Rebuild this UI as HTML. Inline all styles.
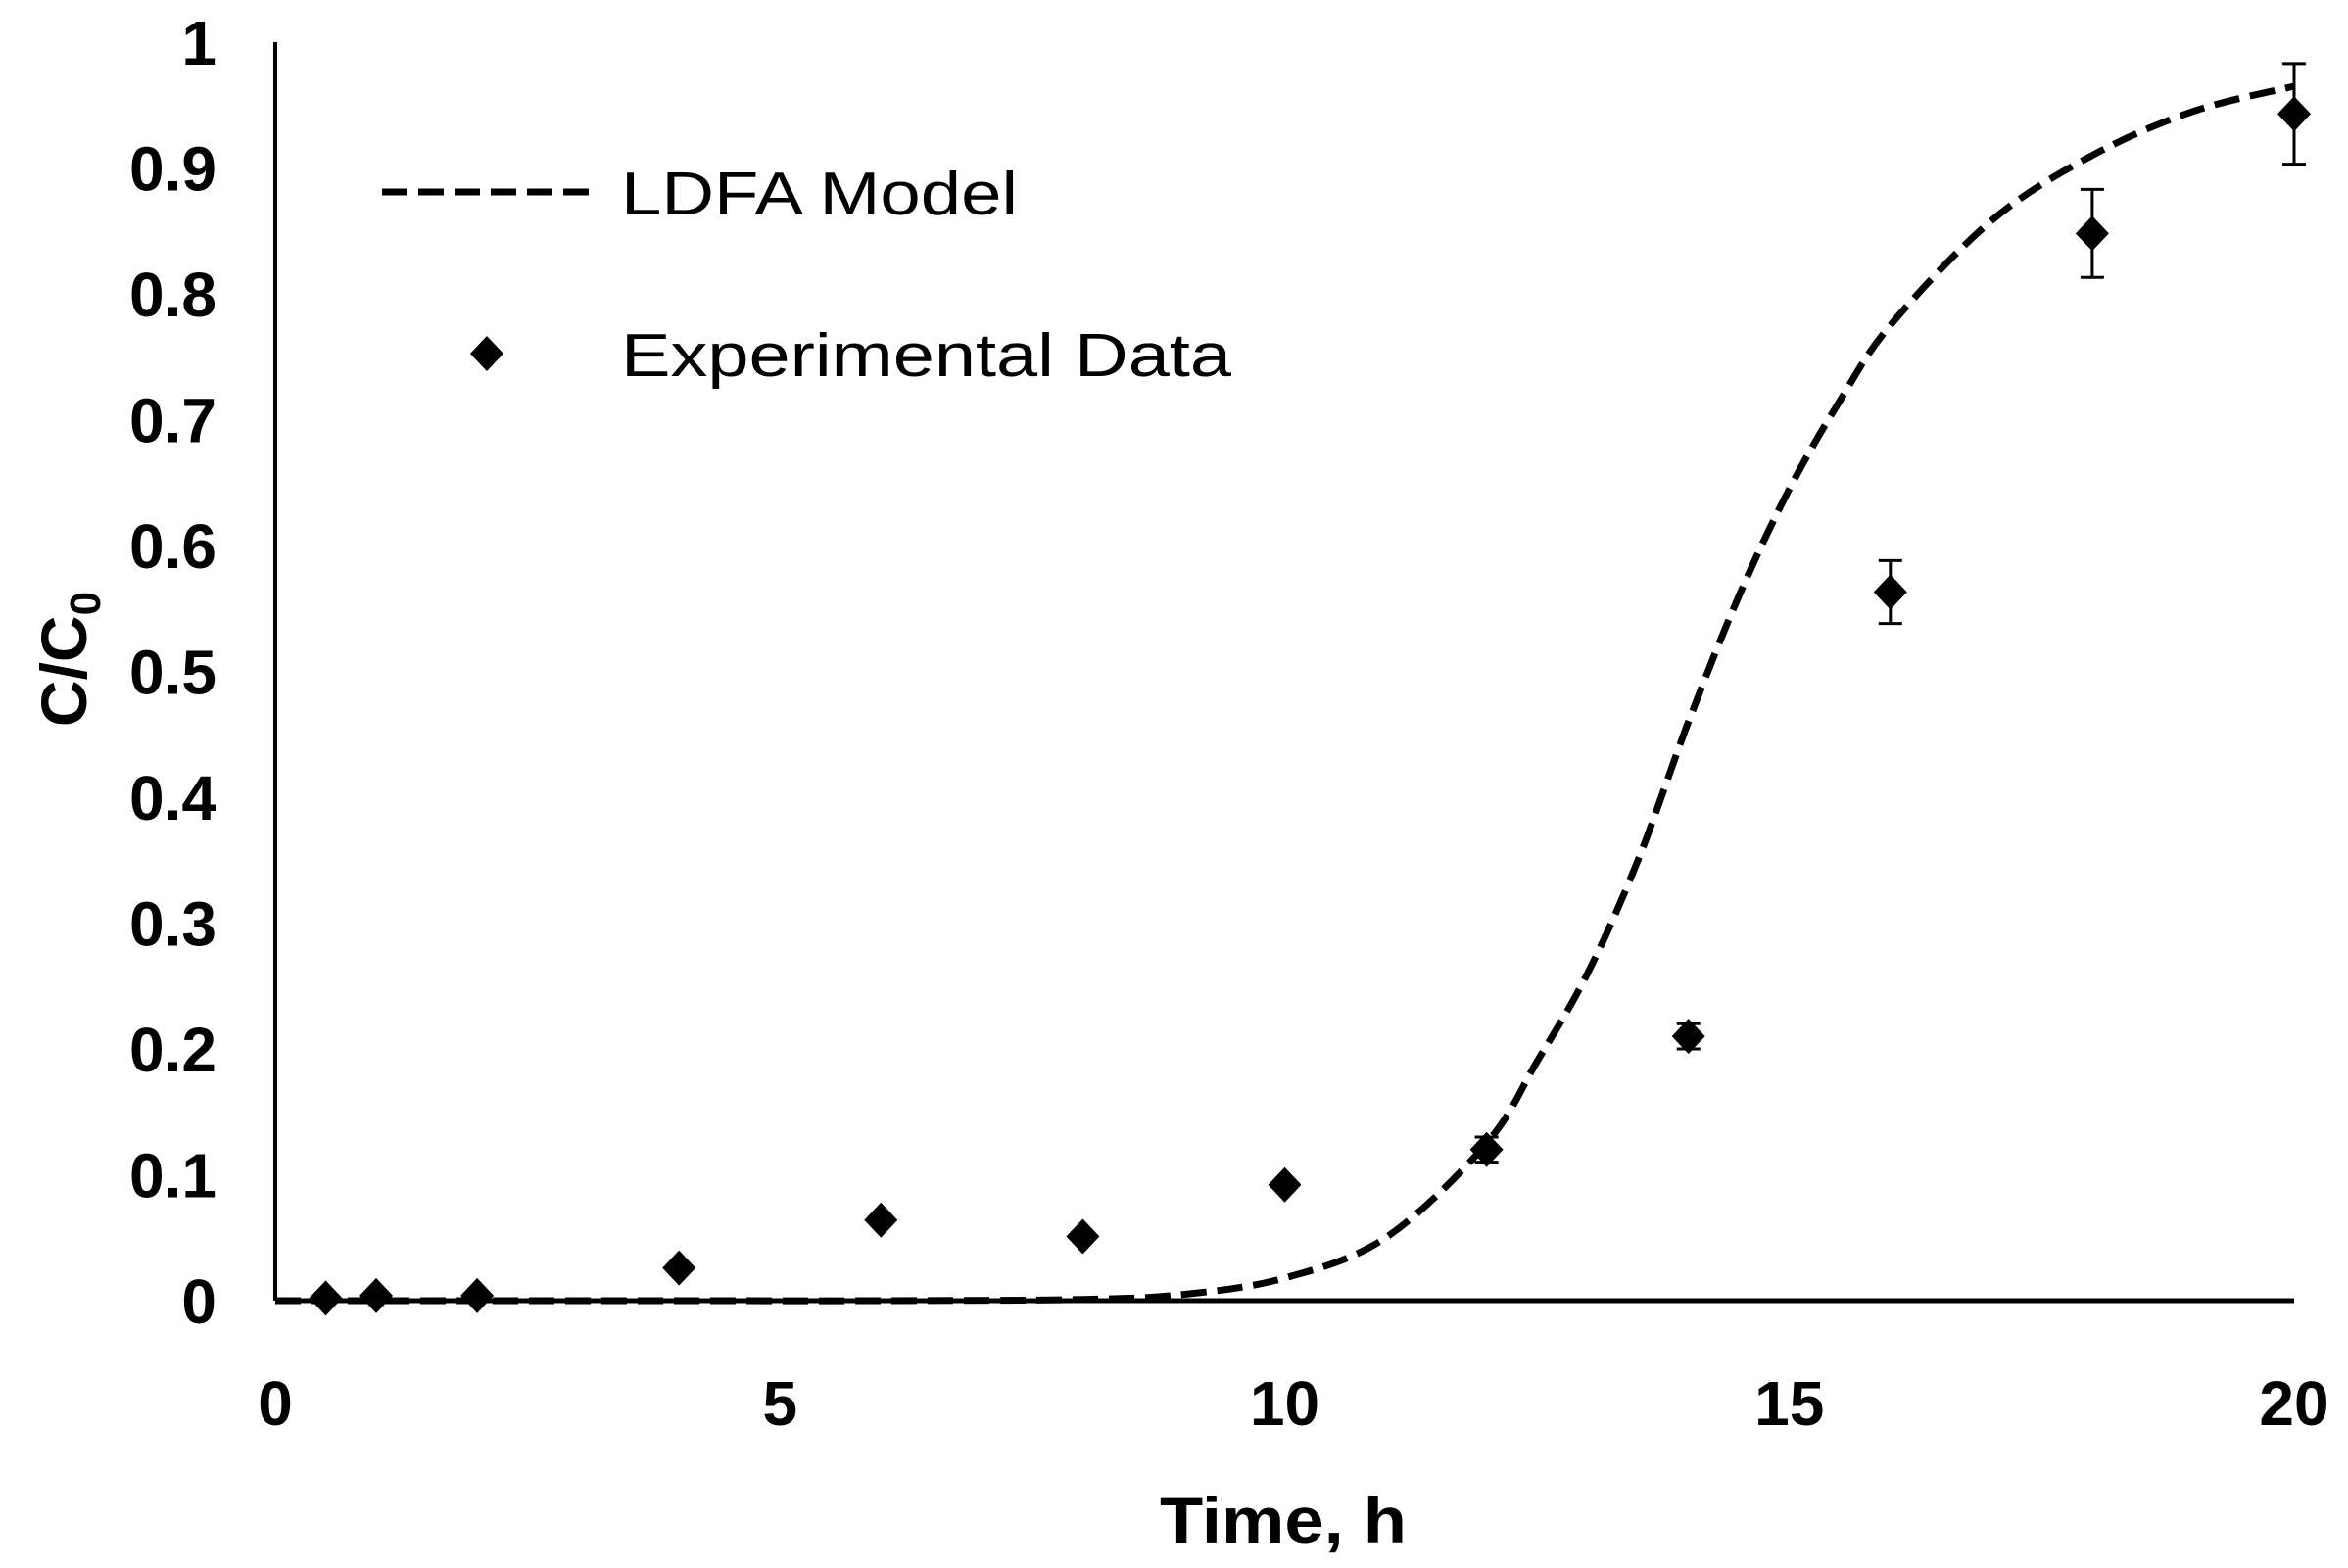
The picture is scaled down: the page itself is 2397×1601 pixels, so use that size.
<!DOCTYPE html>
<html><head><meta charset="utf-8"><style>
html,body{margin:0;padding:0;background:#fff;}
svg{display:block;}
text{font-family:"Liberation Sans",sans-serif;fill:#000;}
</style></head><body>
<svg id="chart" width="2397" height="1601" viewBox="0 0 2397 1601" xmlns="http://www.w3.org/2000/svg">
<g id="axes"></g>
<g id="model"></g>
<g id="exp"></g>
<g>
  <line x1="390" y1="196" x2="604" y2="196" stroke="#000" stroke-width="7" stroke-dasharray="26,11"/>
  <text x="634" y="219" font-size="62" textLength="405" lengthAdjust="spacingAndGlyphs">LDFA Model</text>
  <path d="M497,343 L514,361 L497,379 L480,361 Z" fill="#000"/>
  <text x="634" y="384" font-size="62" textLength="623" lengthAdjust="spacingAndGlyphs">Experimental Data</text>
</g>
<text x="1310" y="1575" font-size="66" font-weight="bold" text-anchor="middle" textLength="252" lengthAdjust="spacingAndGlyphs">Time, h</text>
<text transform="translate(88,673) rotate(-90)" font-size="66" font-weight="bold" text-anchor="middle">C/C<tspan font-size="44" dy="14">0</tspan></text>
</svg>
<script>
const xTicks = [0, 5, 10, 15, 20];
const yTicks = [0, 0.1, 0.2, 0.3, 0.4, 0.5, 0.6, 0.7, 0.8, 0.9, 1];
const yTickLabels = ["0","0.1","0.2","0.3","0.4","0.5","0.6","0.7","0.8","0.9","1"];
const expTime = [0.5, 1, 2, 4, 6, 8, 10, 12, 14, 16, 18, 20];
const expValue = [0.002, 0.004, 0.004, 0.026, 0.064, 0.051, 0.092, 0.12, 0.21, 0.563, 0.848, 0.943];
const expError = [0, 0, 0, 0, 0, 0, 0, 0.01, 0.01, 0.025, 0.035, 0.04];
const modelTime = [0, 2, 4, 6, 8, 9, 10, 11, 12, 12.5, 13, 13.5, 14, 14.5, 15, 15.5, 16, 17, 18, 19, 20];
const modelValue = [0, 0, 0, 0, 0.001, 0.005, 0.018, 0.05, 0.125, 0.19, 0.26, 0.35, 0.46, 0.56, 0.645, 0.715, 0.775, 0.858, 0.91, 0.945, 0.965];

const NS = "http://www.w3.org/2000/svg";
const X0 = 281, X1 = 2342, Y0 = 1328, Y1 = 43;
function xs(v){ return X0 + (v - 0) / 20 * (X1 - X0); }
function ys(v){ return Y0 - (v - 0) / 1 * (Y0 - Y1); }
function mk(tag, attrs, parent){ const e = document.createElementNS(NS, tag); for (const k in attrs) e.setAttribute(k, attrs[k]); parent.appendChild(e); return e; }

const axes = document.getElementById('axes');
let a = mk('line', {x1: X0, y1: Y1, x2: X0, y2: Y0, stroke: '#000', 'stroke-width': 4}, axes);


a = mk('line', {x1: X0, y1: Y0, x2: X1, y2: Y0, stroke: '#000', 'stroke-width': 5}, axes);


xTicks.forEach(function(t){
  const tx = mk('text', {x: xs(t), y: 1455, 'font-size': 64, 'font-weight': 'bold', 'text-anchor': 'middle'}, axes);
  tx.textContent = String(t);
  
  
});
yTicks.forEach(function(t, i){
  const tx = mk('text', {x: 221, y: ys(t) + 23, 'font-size': 64, 'font-weight': 'bold', 'text-anchor': 'end'}, axes);
  tx.textContent = yTickLabels[i];
  
  
});

const pts = modelTime.map(function(t, i){ return [xs(t), ys(modelValue[i])]; });
let d = 'M' + pts[0][0] + ',' + pts[0][1];
for (let i = 0; i < pts.length - 1; i++) {
  const p0 = pts[Math.max(0, i - 1)], p1 = pts[i], p2 = pts[i + 1], p3 = pts[Math.min(pts.length - 1, i + 2)];
  const c1x = p1[0] + (p2[0] - p0[0]) / 6, c1y = p1[1] + (p2[1] - p0[1]) / 6;
  const c2x = p2[0] - (p3[0] - p1[0]) / 6, c2y = p2[1] - (p3[1] - p1[1]) / 6;
  d += ' C' + c1x + ',' + c1y + ' ' + c2x + ',' + c2y + ' ' + p2[0] + ',' + p2[1];
}
const line = mk('path', {d: d, fill: 'none', stroke: '#000', 'stroke-width': 7, 'stroke-dasharray': '26,11'}, document.getElementById('model'));



const exp = document.getElementById('exp');
expTime.forEach(function(t, i){
  const cx = xs(t), cy = ys(expValue[i]);
  if (expError[i] > 0) {
    const top = ys(expValue[i] + expError[i]), bot = ys(expValue[i] - expError[i]);
    const eb = mk('path', {d: 'M' + cx + ',' + top + ' V' + bot + ' M' + (cx - 12) + ',' + top + ' H' + (cx + 12) + ' M' + (cx - 12) + ',' + bot + ' H' + (cx + 12), stroke: '#000', 'stroke-width': 3, fill: 'none'}, exp);
    
    
  }
  const m = mk('path', {d: 'M' + cx + ',' + (cy - 18) + ' L' + (cx + 17) + ',' + cy + ' L' + cx + ',' + (cy + 18) + ' L' + (cx - 17) + ',' + cy + ' Z', fill: '#000'}, exp);
  
  
});
</script>
</body></html>
